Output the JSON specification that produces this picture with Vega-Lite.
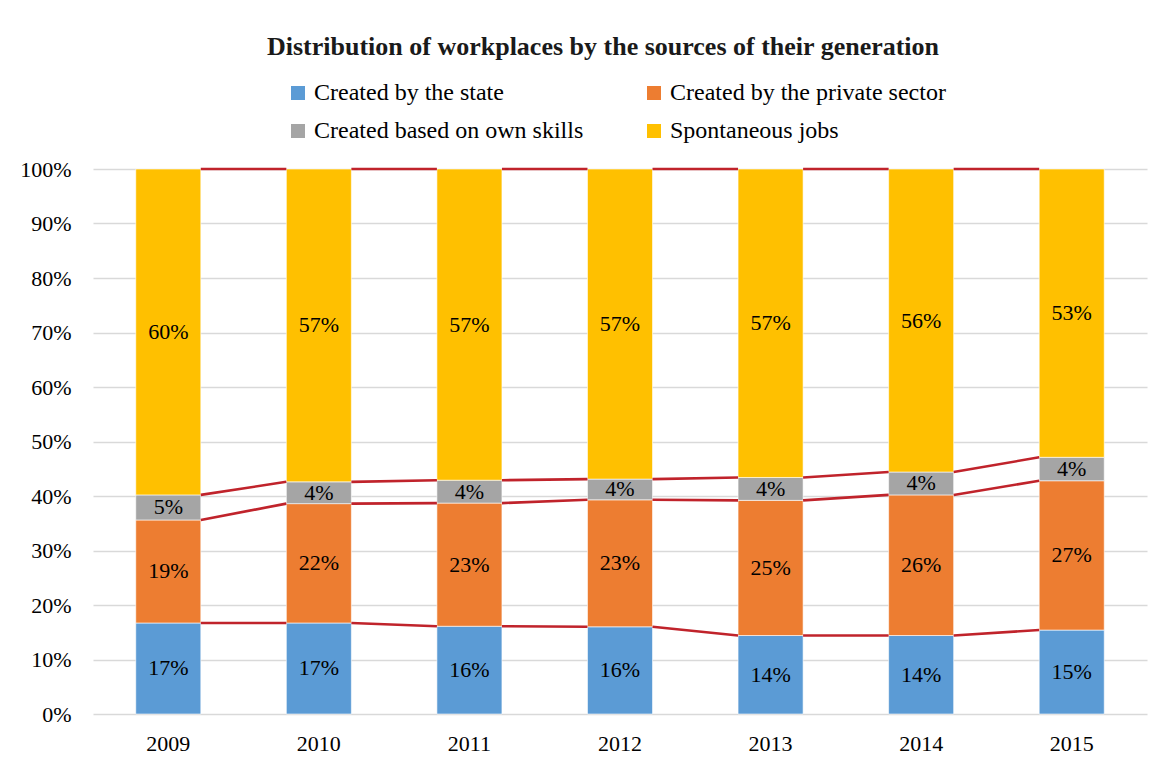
{
  "$schema": "https://vega.github.io/schema/vega-lite/v6.json",
  "width": 1054,
  "height": 545,
  "autosize": {"type": "none"},
  "padding": {"left": 93, "top": 169, "right": 4, "bottom": 48},
  "background": "white",
  "title": {
    "text": "Distribution of workplaces by the sources of their generation",
    "font": "Liberation Serif",
    "fontSize": 26,
    "fontWeight": "bold",
    "color": "#1a1a1a",
    "anchor": "middle",
    "dx": -17,
    "offset": 21
  },
  "config": {
    "view": {"stroke": null},
    "font": "Liberation Serif"
  },
  "data": {
    "values": [
      {"year": "2009", "series": "Created by the state", "ord": 1, "value": 0.167},
      {"year": "2009", "series": "Created by the private sector", "ord": 2, "value": 0.189},
      {"year": "2009", "series": "Created based on own skills", "ord": 3, "value": 0.046},
      {"year": "2009", "series": "Spontaneous jobs", "ord": 4, "value": 0.598},
      {"year": "2010", "series": "Created by the state", "ord": 1, "value": 0.167},
      {"year": "2010", "series": "Created by the private sector", "ord": 2, "value": 0.219},
      {"year": "2010", "series": "Created based on own skills", "ord": 3, "value": 0.040},
      {"year": "2010", "series": "Spontaneous jobs", "ord": 4, "value": 0.574},
      {"year": "2011", "series": "Created by the state", "ord": 1, "value": 0.161},
      {"year": "2011", "series": "Created by the private sector", "ord": 2, "value": 0.226},
      {"year": "2011", "series": "Created based on own skills", "ord": 3, "value": 0.042},
      {"year": "2011", "series": "Spontaneous jobs", "ord": 4, "value": 0.571},
      {"year": "2012", "series": "Created by the state", "ord": 1, "value": 0.160},
      {"year": "2012", "series": "Created by the private sector", "ord": 2, "value": 0.233},
      {"year": "2012", "series": "Created based on own skills", "ord": 3, "value": 0.038},
      {"year": "2012", "series": "Spontaneous jobs", "ord": 4, "value": 0.569},
      {"year": "2013", "series": "Created by the state", "ord": 1, "value": 0.144},
      {"year": "2013", "series": "Created by the private sector", "ord": 2, "value": 0.248},
      {"year": "2013", "series": "Created based on own skills", "ord": 3, "value": 0.042},
      {"year": "2013", "series": "Spontaneous jobs", "ord": 4, "value": 0.566},
      {"year": "2014", "series": "Created by the state", "ord": 1, "value": 0.144},
      {"year": "2014", "series": "Created by the private sector", "ord": 2, "value": 0.258},
      {"year": "2014", "series": "Created based on own skills", "ord": 3, "value": 0.042},
      {"year": "2014", "series": "Spontaneous jobs", "ord": 4, "value": 0.556},
      {"year": "2015", "series": "Created by the state", "ord": 1, "value": 0.154},
      {"year": "2015", "series": "Created by the private sector", "ord": 2, "value": 0.274},
      {"year": "2015", "series": "Created based on own skills", "ord": 3, "value": 0.043},
      {"year": "2015", "series": "Spontaneous jobs", "ord": 4, "value": 0.529}
    ]
  },
  "encoding": {
    "x": {
      "field": "year",
      "type": "ordinal",
      "scale": {"paddingInner": 0.568, "paddingOuter": 0.284},
      "axis": {
        "title": null,
        "labelAngle": 0,
        "labelFont": "Liberation Serif",
        "labelFontSize": 22,
        "labelColor": "#000000",
        "labelPadding": 19,
        "domain": false,
        "ticks": false
      }
    }
  },
  "layer": [
    {
      "mark": {"type": "bar", "stroke": "white", "strokeWidth": 0.6},
      "encoding": {
        "y": {
          "field": "value",
          "type": "quantitative",
          "stack": "zero",
          "scale": {"domain": [0, 1], "nice": false},
          "axis": {
            "title": null,
            "values": [0, 0.1, 0.2, 0.3, 0.4, 0.5, 0.6, 0.7, 0.8, 0.9, 1],
            "format": ".0%",
            "labelFont": "Liberation Serif",
            "labelFontSize": 22,
            "labelColor": "#000000",
            "labelPadding": 22,
            "domain": false,
            "ticks": false,
            "grid": true,
            "gridColor": "#d9d9d9",
            "gridWidth": 1.3
          }
        },
        "order": {"field": "ord", "type": "quantitative"},
        "color": {
          "field": "series",
          "type": "nominal",
          "sort": ["Created by the state", "Created by the private sector", "Created based on own skills", "Spontaneous jobs"],
          "scale": {
            "domain": ["Created by the state", "Created by the private sector", "Created based on own skills", "Spontaneous jobs"],
            "range": ["#5b9bd5", "#ed7d31", "#a5a5a5", "#ffc000"]
          },
          "legend": {
            "title": null,
            "orient": "none",
            "direction": "horizontal",
            "legendX": 193,
            "legendY": -88,
            "columns": 2,
            "columnPadding": 58,
            "rowPadding": 14,
            "symbolType": "square",
            "symbolSize": 196,
            "symbolStrokeWidth": 0,
            "labelFont": "Liberation Serif",
            "labelFontSize": 24,
            "labelColor": "#000000",
            "labelOffset": 4,
            "labelLimit": 400
          }
        }
      }
    },
    {
      "mark": {"type": "text", "font": "Liberation Serif", "fontSize": 22, "color": "#000000", "baseline": "middle"},
      "encoding": {
        "y": {"field": "value", "type": "quantitative", "stack": "zero", "bandPosition": 0.5},
        "order": {"field": "ord", "type": "quantitative"},
        "detail": {"field": "series"},
        "text": {"field": "value", "type": "quantitative", "format": ".0%"}
      }
    },
    {
      "transform": [
        {"stack": "value", "groupby": ["year"], "sort": [{"field": "ord"}], "as": ["y0", "y1"]},
        {"window": [{"op": "lead", "field": "y1", "as": "ny1"}, {"op": "lead", "field": "year", "as": "nyear"}], "groupby": ["series"], "sort": [{"field": "year"}]},
        {"filter": "datum.nyear != null"}
      ],
      "mark": {"type": "rule", "color": "#c0232b", "strokeWidth": 2.6},
      "encoding": {
        "x": {"field": "year", "type": "ordinal", "bandPosition": 1},
        "x2": {"field": "nyear", "bandPosition": 0},
        "y": {"field": "y1", "type": "quantitative"},
        "y2": {"field": "ny1"}
      }
    }
  ]
}
